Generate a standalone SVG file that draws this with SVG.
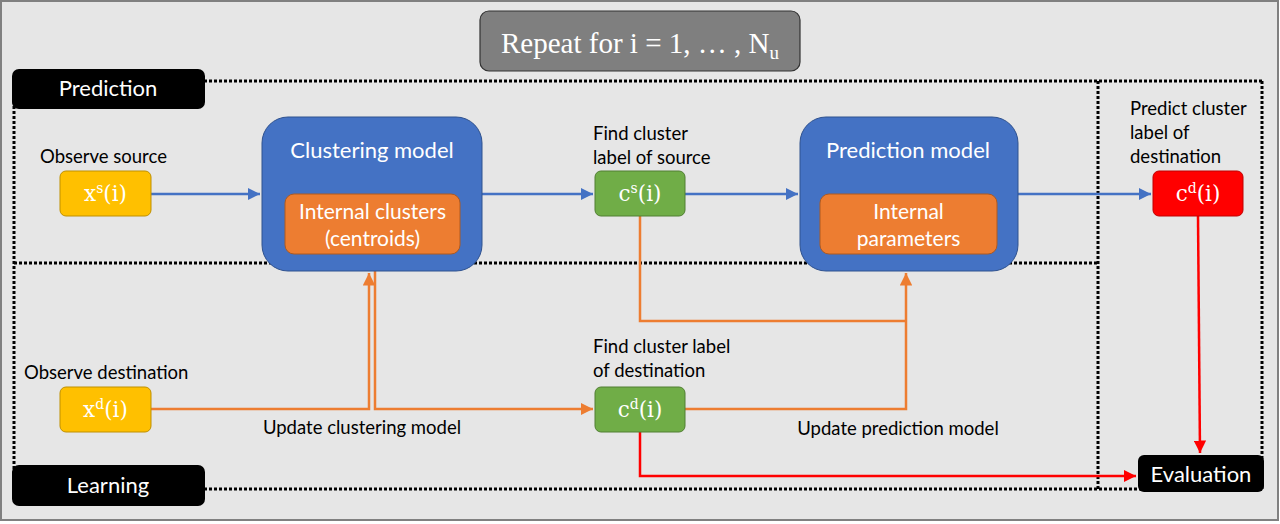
<svg xmlns="http://www.w3.org/2000/svg" width="1280" height="524" viewBox="0 0 1280 524">
<style>
.lbl{font-family:Lato,"Open Sans",sans-serif;font-size:18.5px;fill:#000}
.wt{font-family:Lato,"Open Sans",sans-serif;fill:#fff}
.m{font-family:"DejaVu Serif","Liberation Serif",serif;font-size:21.5px;fill:#fff}
.dot{fill:none;stroke:#000;stroke-width:3;stroke-dasharray:3 2}
.blue{fill:none;stroke:#4472c4;stroke-width:2.5}
.or{fill:none;stroke:#ed7d31;stroke-width:2.5}
.red{fill:none;stroke:#ff0000;stroke-width:2.5}
</style>
<defs>
<marker id="ab" viewBox="0 0 10 10" refX="10" refY="5" markerWidth="5" markerHeight="5" orient="auto" markerUnits="strokeWidth"><path d="M0,0L10,5L0,10z" fill="#4472c4"/></marker>
<marker id="ao" viewBox="0 0 10 10" refX="10" refY="5" markerWidth="5" markerHeight="5" orient="auto" markerUnits="strokeWidth"><path d="M0,0L10,5L0,10z" fill="#ed7d31"/></marker>
<marker id="ar" viewBox="0 0 10 10" refX="10" refY="5" markerWidth="5" markerHeight="5" orient="auto" markerUnits="strokeWidth"><path d="M0,0L10,5L0,10z" fill="#ff0000"/></marker>
</defs>
<rect x="1" y="1" width="1277" height="519" fill="#e6e6e6" stroke="#808080" stroke-width="2"/>
<g id="regions">
<path class="dot" d="M14,81H1262"/>
<path class="dot" d="M14,263H1098"/>
<path class="dot" d="M14,489H1262"/>
<path class="dot" d="M14,81V489"/>
<path class="dot" d="M1098,81V489"/>
<path class="dot" d="M1262,81V489"/>
</g>
<g id="title">
<rect x="480" y="11" width="320" height="60" rx="9" fill="#7f7f7f" stroke="#333" stroke-width="1.2"/>
<text x="640" y="53" text-anchor="middle" font-family="Liberation Serif,DejaVu Serif,serif" font-size="29" fill="#fff">Repeat for i = 1, … , N<tspan font-size="19" dy="6">u</tspan></text>
</g>
<g id="prediction-label">
<rect x="12" y="69" width="193" height="40" rx="7" fill="#000"/>
<text class="wt" x="108" y="96" text-anchor="middle" font-size="22">Prediction</text>
</g>
<g id="learning-label">
<rect x="12" y="465" width="193" height="41" rx="7" fill="#000"/>
<text class="wt" x="108" y="493" text-anchor="middle" font-size="22">Learning</text>
</g>
<g id="connectors">
<path class="blue" d="M151,194H260" marker-end="url(#ab)"/>
<path class="blue" d="M482,194H593" marker-end="url(#ab)"/>
<path class="blue" d="M685,194H798" marker-end="url(#ab)"/>
<path class="blue" d="M1018,194H1151" marker-end="url(#ab)"/>
<path class="or" d="M151,409H369V273" marker-end="url(#ao)"/>
<path class="or" d="M375,271V409H593" marker-end="url(#ao)"/>
<path class="or" d="M640,216V321H906"/>
<path class="or" d="M685,409H906V273" marker-end="url(#ao)"/>
<path class="red" d="M1198,216L1200,453" marker-end="url(#ar)"/>
<path class="red" d="M640,432V476H1136" marker-end="url(#ar)"/>
</g>
<g id="xs">
<text class="lbl" x="40" y="163">Observe source</text>
<rect x="60" y="171" width="91" height="45" rx="6" fill="#ffc000" stroke="#bf9000" stroke-width="1"/>
<text class="m" x="105.5" y="201" text-anchor="middle">x<tspan font-size="14" dy="-8">s</tspan><tspan dy="8">(i)</tspan></text>
</g>
<g id="clustering-model">
<rect x="262" y="117" width="220" height="154" rx="26" fill="#4472c4" stroke="#2f528f" stroke-width="1"/>
<text class="wt" x="372" y="158" text-anchor="middle" font-size="22">Clustering model</text>
<rect x="285" y="194" width="175" height="60" rx="9" fill="#ed7d31" stroke="#ae5a21" stroke-width="1"/>
<text class="wt" x="372.5" y="219" text-anchor="middle" font-size="21">Internal clusters</text>
<text class="wt" x="372.5" y="246" text-anchor="middle" font-size="21">(centroids)</text>
</g>
<g id="cs">
<text class="lbl" x="593" y="140">Find cluster</text>
<text class="lbl" x="593" y="164">label of source</text>
<rect x="595" y="171" width="90" height="45" rx="6" fill="#70ad47" stroke="#507e32" stroke-width="1"/>
<text class="m" x="640" y="201" text-anchor="middle">c<tspan font-size="14" dy="-8">s</tspan><tspan dy="8">(i)</tspan></text>
</g>
<g id="prediction-model">
<rect x="800" y="117" width="218" height="154" rx="26" fill="#4472c4" stroke="#2f528f" stroke-width="1"/>
<text class="wt" x="908" y="158" text-anchor="middle" font-size="22">Prediction model</text>
<rect x="820" y="194" width="177" height="60" rx="9" fill="#ed7d31" stroke="#ae5a21" stroke-width="1"/>
<text class="wt" x="908.5" y="219" text-anchor="middle" font-size="21">Internal</text>
<text class="wt" x="908.5" y="246" text-anchor="middle" font-size="21">parameters</text>
</g>
<g id="cd-pred">
<text class="lbl" x="1130" y="115">Predict cluster</text>
<text class="lbl" x="1130" y="139">label of</text>
<text class="lbl" x="1130" y="163">destination</text>
<rect x="1153" y="171" width="90" height="45" rx="6" fill="#ff0000" stroke="#c00000" stroke-width="1"/>
<text class="m" x="1198" y="201" text-anchor="middle">c<tspan font-size="14" dy="-8">d</tspan><tspan dy="8">(i)</tspan></text>
</g>
<g id="xd">
<text class="lbl" x="24" y="379">Observe destination</text>
<rect x="60" y="387" width="91" height="45" rx="6" fill="#ffc000" stroke="#bf9000" stroke-width="1"/>
<text class="m" x="105.5" y="417" text-anchor="middle">x<tspan font-size="14" dy="-8">d</tspan><tspan dy="8">(i)</tspan></text>
</g>
<g id="cd-learn">
<text class="lbl" x="593" y="353">Find cluster label</text>
<text class="lbl" x="593" y="377">of destination</text>
<rect x="595" y="387" width="90" height="45" rx="6" fill="#70ad47" stroke="#507e32" stroke-width="1"/>
<text class="m" x="640" y="417" text-anchor="middle">c<tspan font-size="14" dy="-8">d</tspan><tspan dy="8">(i)</tspan></text>
</g>
<g id="edge-labels">
<text class="lbl" x="362" y="434" text-anchor="middle">Update clustering model</text>
<text class="lbl" x="898" y="435" text-anchor="middle">Update prediction model</text>
</g>
<g id="evaluation">
<rect x="1138" y="455" width="126" height="37" rx="6" fill="#000"/>
<text class="wt" x="1201" y="482" text-anchor="middle" font-size="22">Evaluation</text>
</g>
</svg>
